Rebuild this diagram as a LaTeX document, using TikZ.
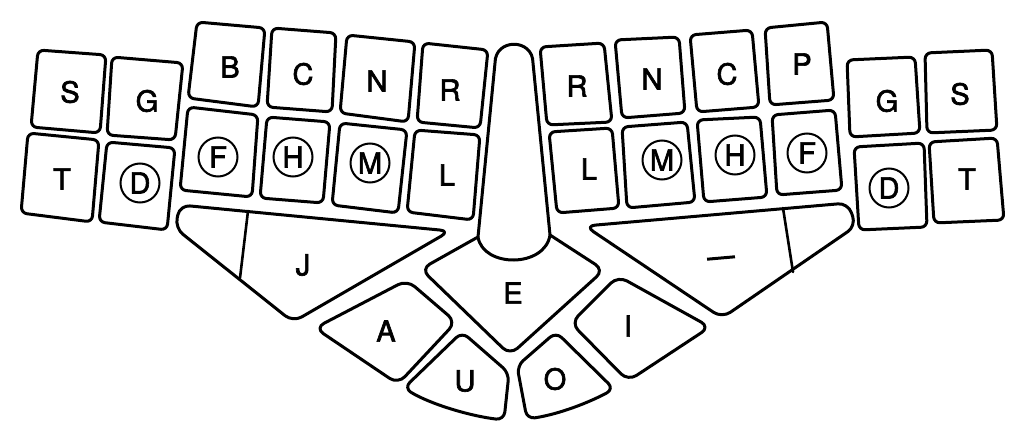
\documentclass[tikz,border=0pt]{standalone}
\usepackage{fontspec}
\setmainfont{TeX Gyre Heros}
\newfontfamily\keyfont{TeX Gyre Heros}[FakeBold=2.2]
\tikzset{
  keyline/.style={draw, line width=3pt, rounded corners=6pt, line join=round},
  thinline/.style={draw, line width=2.6pt, line cap=round},
  lbl/.style={font=\keyfont\fontsize{29}{29}\selectfont, inner sep=0pt},
  circ/.style={lbl, circle, draw, line width=2pt, minimum size=39pt},
}
\newcommand\kq[4]{\draw[keyline] (#1) -- (#2) -- (#3) -- (#4) -- cycle;}
\begin{document}
\begin{tikzpicture}[x=1pt,y=-1pt]
\useasboundingbox (0,0) rectangle (1024,438);
% ---- left keys
\kq{38,50}{106,55}{100,133}{31,127}
\kq{112,57}{183,63}{175,140}{107,135}
\kq{28,133}{99,140}{92,222}{21,213}
\kq{107,142}{175,148}{167,230}{99,222}
\kq{197,22}{265,28}{258,107}{188,98}
\kq{272,28}{336,33}{332,112}{267,107}
\kq{347,35}{415,42}{408,122}{340,113}
\kq{423,43}{488,50}{480,128}{417,122}
\kq{188,107}{258,115}{252,197}{180,190}
\kq{267,117}{330,122}{323,203}{260,198}
\kq{340,123}{407,130}{398,213}{332,205}
\kq{415,130}{480,135}{473,220}{407,212}
% ---- right keys
\kq{540,47}{604,43}{612,122}{547,125}
\kq{615,40}{679,37}{685,113}{622,118}
\kq{690,35}{752,30}{759,107}{697,112}
\kq{765,28}{827,22}{834,100}{770,105}
\kq{847,60}{915,57}{920,133}{850,137}
\kq{925,53}{992,50}{997,130}{927,133}
\kq{549,132}{612,128}{619,208}{557,213}
\kq{622,127}{687,122}{695,202}{627,208}
\kq{697,120}{760,117}{767,197}{704,202}
\kq{772,115}{835,110}{842,190}{777,195}
\kq{854,147}{924,143}{927,227}{859,230}
\kq{929,142}{997,138}{1004,220}{934,223}
% ---- left thumb bar
\draw[keyline, rounded corners=10pt] (180,205) -- (450,231) -- (293,322) -- (175,228) -- cycle;
\coordinate (jdt) at (248,211);
\coordinate (jdb) at (240,278);
\draw[thinline] (jdt) -- (jdb);
% ---- right thumb bar
\draw[keyline, rounded corners=10pt] (585,226) -- (848,203) -- (856,226) -- (722,318) -- cycle;
\coordinate (rdt) at (783,208);
\coordinate (rdb) at (793,272);
\draw[thinline] (rdt) -- (rdb);
% ---- stalk and E
\coordinate (sl) at (478,237);
\coordinate (sr) at (550,235);
\draw[line width=3pt, line join=round] (sl) -- (495,63) .. controls (495,38) and (533,38) .. (533,63) -- (sr);
\draw[line width=3pt] (sl) .. controls (483,268) and (545,268) .. (sr);
\draw[keyline, rounded corners=10pt] (sl) -- (421,269) -- (510,355) -- (604,270) -- (sr);
% ---- A, I
\draw[keyline, rounded corners=10pt] (407,280) -- (456,322) -- (398,384) -- (315,328) -- cycle;
\draw[keyline, rounded corners=10pt] (618,276) -- (710,327) -- (628,381) -- (571,323) -- cycle;
% ---- U, O
\draw[keyline, rounded corners=8pt] (462,332) -- (509,373) -- (504,420) .. controls (470,416) and (430,404) .. (404,388) -- cycle;
\draw[keyline, rounded corners=8pt] (556,332) -- (614,389) .. controls (590,402) and (560,414) .. (527,419) -- (517,366) -- cycle;
% ---- labels left
\node[lbl] (lS) at (70,92) {S};
\node[lbl] (lG) at (147,101) {G};
\node[lbl] (lB) at (230,67) {B};
\node[lbl] (lC) at (303,74) {C};
\node[lbl] (lN) at (377,81) {N};
\node[lbl] (lR) at (450,90) {R};
\node[lbl] (lT) at (62,179) {T};
\node[circ] (lD) at (140,183) {D};
\node[circ] (lF) at (218,157) {F};
\node[circ] (lH) at (293,157) {H};
\node[circ] (lM) at (370,163) {M};
\node[lbl] (lL) at (447,175) {L};
% ---- labels right
\node[lbl] (rR) at (577,86) {R};
\node[lbl] (rN) at (652,79) {N};
\node[lbl] (rC) at (727,74) {C};
\node[lbl] (rP) at (802,64) {P};
\node[lbl] (rG) at (887,101) {G};
\node[lbl] (rS) at (960,94) {S};
\node[circ] (rM) at (662,160) {M};
\node[circ] (rH) at (735,155) {H};
\node[circ] (rF) at (807,153) {F};
\node[lbl] (rL) at (589,169) {L};
\node[circ] (rD) at (889,188) {D};
\node[lbl] (rT) at (967,179) {T};
% ---- thumb labels
\node[lbl] (kJ) at (303,265) {J};
\node[lbl] (kE) at (513,293) {E};
\node[lbl] (kA) at (386,331) {A};
\node[lbl] (kU) at (465,381) {U};
\node[lbl] (kO) at (555,379) {O};
\node[lbl] (kI) at (628,326) {I};
\node[lbl] (kD) at (721,258) {\rotatebox{5}{\rule{28pt}{3pt}}};
\end{tikzpicture}
\end{document}
